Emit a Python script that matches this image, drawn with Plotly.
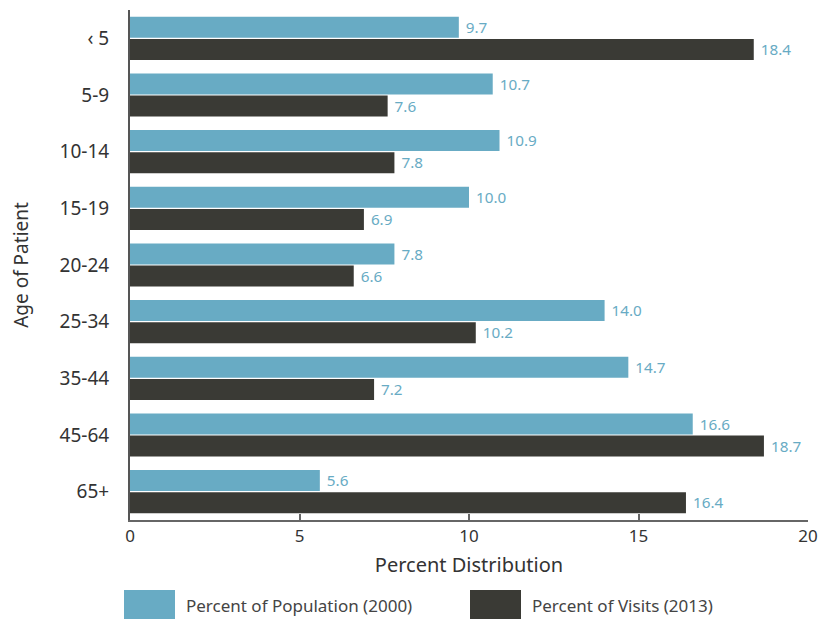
import plotly.graph_objects as go

age_groups = ["‹ 5", "5-9", "10-14", "15-19", "20-24", "25-34", "35-44", "45-64", "65+"]
population_2000 = [9.7, 10.7, 10.9, 10.0, 7.8, 14.0, 14.7, 16.6, 5.6]
visits_2013 = [18.4, 7.6, 7.8, 6.9, 6.6, 10.2, 7.2, 18.7, 16.4]
x_ticks = [0, 5, 10, 15, 20]
series_names = ["Percent of Population (2000)", "Percent of Visits (2013)"]

BLUE = "#68abc4"
DARK = "#3a3a35"
FONT = "Noto Sans"

fig = go.Figure()
for name, vals, col in [(series_names[0], population_2000, BLUE), (series_names[1], visits_2013, DARK)]:
    fig.add_trace(go.Bar(
        y=age_groups, x=vals, orientation="h", name=name,
        marker=dict(color=col, line=dict(width=0)),
        text=[f" {v:.1f}" for v in vals], textposition="outside",
        textfont=dict(color=BLUE, size=16, family=FONT),
        cliponaxis=False, showlegend=False, hoverinfo="skip",
    ))

W, H = 830, 619
L, R, T, B = 130, 22, 10, 99
pw, ph = W - L - R, H - T - B

def px(x):
    return (x - L) / pw

def py(y):
    return (H - B - y) / ph

shapes = [
    dict(type="rect", xref="paper", yref="paper", x0=px(124), x1=px(175), y0=py(619), y1=py(590),
         fillcolor=BLUE, line=dict(width=0)),
    dict(type="rect", xref="paper", yref="paper", x0=px(470), x1=px(521), y0=py(619), y1=py(590),
         fillcolor=DARK, line=dict(width=0)),
]
annotations = [
    dict(xref="paper", yref="paper", x=px(184), y=py(605), text=series_names[0], showarrow=False,
         xanchor="left", yanchor="middle", font=dict(size=17, color="#444", family=FONT)),
    dict(xref="paper", yref="paper", x=px(530), y=py(605), text=series_names[1], showarrow=False,
         xanchor="left", yanchor="middle", font=dict(size=17, color="#444", family=FONT)),
]

fig.update_layout(
    width=W, height=H,
    margin=dict(l=L, r=R, t=T, b=B),
    paper_bgcolor="white", plot_bgcolor="white",
    barmode="group", bargap=0.22, bargroupgap=0.05,
    font=dict(family=FONT, color="#333"),
    shapes=shapes, annotations=annotations,
    xaxis=dict(range=[0, 20], tickvals=x_ticks, showgrid=False, zeroline=False,
               showline=True, linecolor="#666", linewidth=2, automargin=False,
               ticks="inside", ticklen=6, tickcolor="#666", tickwidth=1.5,
               tickfont=dict(size=17, color="#333", family=FONT),
               title=dict(text="Percent Distribution", font=dict(size=20, color="#333", family=FONT), standoff=12)),
    yaxis=dict(autorange="reversed", showgrid=False, zeroline=False, automargin=False,
               showline=True, linecolor="#555", linewidth=2, ticks="",
               ticklabelstandoff=15,
               tickfont=dict(size=19, color="#333", family=FONT),
               title=dict(text="Age of Patient", font=dict(size=19, color="#333", family=FONT), standoff=26)),
)

fig.write_html("out.html", config={"displayModeBar": False},
               post_script="document.body.style.margin='0';document.body.style.overflow='hidden';")
